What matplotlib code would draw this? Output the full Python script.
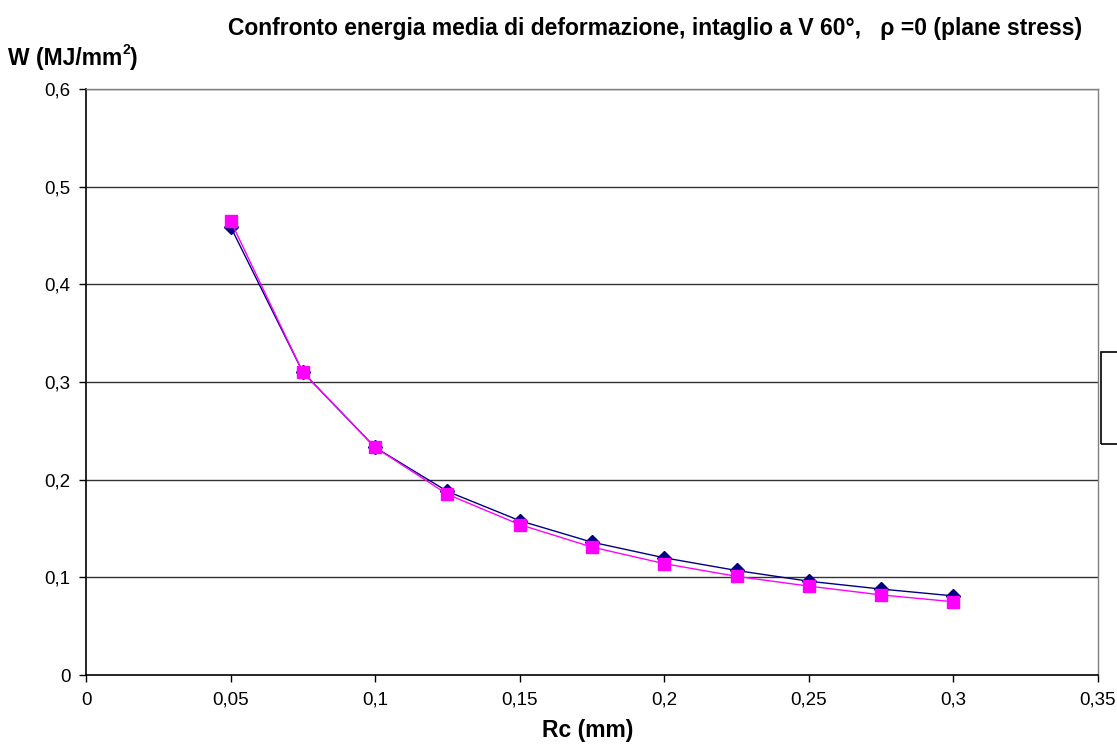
import matplotlib
matplotlib.use("Agg")
import matplotlib.pyplot as plt
from matplotlib.patches import Rectangle

plt.rcParams['font.family'] = ['Liberation Sans', 'DejaVu Sans']

rc = [0.05, 0.075, 0.1, 0.125, 0.15, 0.175, 0.2, 0.225, 0.25, 0.275, 0.3]
w_series_a = [0.459, 0.310, 0.233, 0.188, 0.158, 0.136, 0.120, 0.107, 0.096, 0.088, 0.081]
w_series_b = [0.465, 0.310, 0.233, 0.185, 0.154, 0.131, 0.114, 0.101, 0.091, 0.082, 0.075]

x_ticks = [0, 0.05, 0.1, 0.15, 0.2, 0.25, 0.3, 0.35]
x_tick_labels = ['0', '0,05', '0,1', '0,15', '0,2', '0,25', '0,3', '0,35']
y_ticks = [0, 0.1, 0.2, 0.3, 0.4, 0.5, 0.6]
y_tick_labels = ['0', '0,1', '0,2', '0,3', '0,4', '0,5', '0,6']

W, H = 1117, 749
fig = plt.figure(figsize=(W / 100, H / 100), dpi=100)
left, right, top, bottom = 86, 1098, 89, 675
ax = fig.add_axes([left / W, 1 - bottom / H, (right - left) / W, (bottom - top) / H])

ax.set_xlim(0, 0.35)
ax.set_ylim(0, 0.6)

for y in y_ticks[1:]:
    ax.axhline(y, color='#333333', lw=1.0, zorder=1)

ax.plot(rc, w_series_a, color='#000080', lw=1.0, marker='D', ms=7,
        markerfacecolor='#000080', markeredgecolor='#000080', zorder=3)
ax.plot(rc, w_series_b, color='#FF00FF', lw=1.0, marker='s', ms=8.5,
        markerfacecolor='#FF00FF', markeredgecolor='#FF00FF', zorder=4)

ax.set_xticks(x_ticks)
ax.set_xticklabels(x_tick_labels, fontsize=13.5)
ax.set_yticks(y_ticks)
ax.set_yticklabels(y_tick_labels, fontsize=13.5)
ax.tick_params(axis='x', direction='out', length=5, width=1, color='black', pad=7)
ax.tick_params(axis='y', direction='out', length=5, width=1, color='black', pad=6)

for side in ['left', 'bottom']:
    ax.spines[side].set_color('black')
    ax.spines[side].set_linewidth(1.2)
for side in ['top', 'right']:
    ax.spines[side].set_color('#808080')
    ax.spines[side].set_linewidth(1.0)

fig.text(588 / W, 1 - 730 / H, 'Rc (mm)', fontsize=16.5, fontweight='bold',
         ha='center', va='center')

# y-axis label with a small superscript
lab = fig.text(8 / W, 1 - 58 / H, 'W (MJ/mm', fontsize=16.5, fontweight='bold',
               ha='left', va='center')
fig.canvas.draw()
bb = lab.get_window_extent()
sup = fig.text(bb.x1 / W, (H - 50) / H, '2', fontsize=10, fontweight='bold',
               ha='left', va='center')
fig.canvas.draw()
bb2 = sup.get_window_extent()
fig.text(bb2.x1 / W, 1 - 58 / H, ')', fontsize=16.5, fontweight='bold',
         ha='left', va='center')

fig.text(655 / W, 1 - 28 / H,
         'Confronto energia media di deformazione, intaglio a V 60°,   ρ =0 (plane stress)',
         fontsize=16.5, fontweight='bold', ha='center', va='center')

# empty legend frame on the right edge
fig.patches.append(Rectangle((1101 / W, 1 - 444 / H), 40 / W, 92 / H,
                             transform=fig.transFigure, fill=False,
                             edgecolor='black', lw=1.2))

fig.savefig('out.png', dpi=100, facecolor='white')
